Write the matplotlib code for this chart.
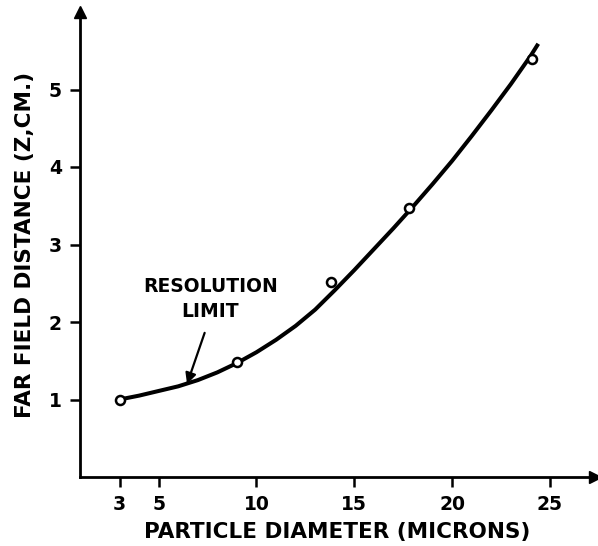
import matplotlib
matplotlib.use("Agg")
import matplotlib.pyplot as plt

# Measured data points (open circles)
diam_pts = [3.0, 9.0, 13.8, 17.8, 24.1]
dist_pts = [1.00, 1.49, 2.51, 3.47, 5.40]

# Smooth fitted curve
curve_x = [3, 4, 5, 6, 7, 8, 9, 10, 11, 12, 13, 14, 15, 16, 17, 18, 19, 20, 21, 22, 23, 24, 24.4]
curve_y = [1.00, 1.05, 1.11, 1.17, 1.25, 1.35, 1.47, 1.61, 1.77, 1.95, 2.16, 2.41, 2.67, 2.94, 3.21, 3.49, 3.78, 4.08, 4.40, 4.73, 5.07, 5.43, 5.59]

x_ticks = [3, 5, 10, 15, 20, 25]
x_tick_labels = ["3", "5", "10", "15", "20", "25"]
y_ticks = [1, 2, 3, 4, 5]
y_tick_labels = ["1", "2", "3", "4", "5"]

plt.rcParams['font.family'] = ['DejaVu Sans']
plt.rcParams['font.weight'] = 'bold'

fig = plt.figure(figsize=(5.98, 5.46), dpi=100)
ax = fig.add_axes([80/598, (546-477)/546, (595-80)/598, (477-12)/546])

ax.plot(curve_x, curve_y, color='black', lw=2.9, solid_capstyle='butt', zorder=2)
ax.plot(diam_pts, dist_pts, linestyle='none', marker='o', markersize=6.5,
        markerfacecolor='white', markeredgecolor='black', markeredgewidth=1.8, zorder=3)

ax.set_xlim(0.98, 27.3)
ax.set_ylim(0, 6.0)
ax.spines['top'].set_visible(False)
ax.spines['right'].set_visible(False)
for s in ('left', 'bottom'):
    ax.spines[s].set_linewidth(2.0)

ax.set_xticks(x_ticks)
ax.set_xticklabels(x_tick_labels)
ax.set_yticks(y_ticks)
ax.set_yticklabels(y_tick_labels)
ax.tick_params(direction='out', length=7, width=1.8, labelsize=13.5, pad=6)
for lab in ax.get_xticklabels() + ax.get_yticklabels():
    lab.set_fontweight('bold')

# Axis arrowheads
ax.plot(1, 0, marker='>', color='black', markersize=9, transform=ax.transAxes, clip_on=False)
ax.plot(0, 1, marker='^', color='black', markersize=9, transform=ax.transAxes, clip_on=False)

ax.set_xlabel("PARTICLE DIAMETER (MICRONS)", fontsize=15.5, fontweight='bold', labelpad=6)
ax.set_ylabel("FAR FIELD DISTANCE (Z,CM.)", fontsize=15.5, fontweight='bold', labelpad=10)

ax.text(7.65, 2.46, "RESOLUTION", ha='center', va='center', fontsize=13.5, fontweight='bold')
ax.text(7.65, 2.14, "LIMIT", ha='center', va='center', fontsize=13.5, fontweight='bold')
ax.annotate("", xy=(6.45, 1.20), xytext=(7.35, 1.86),
            arrowprops=dict(arrowstyle='-|>', color='black', lw=1.6, mutation_scale=16,
                            shrinkA=0, shrinkB=0))

fig.savefig("out.png", dpi=100)
